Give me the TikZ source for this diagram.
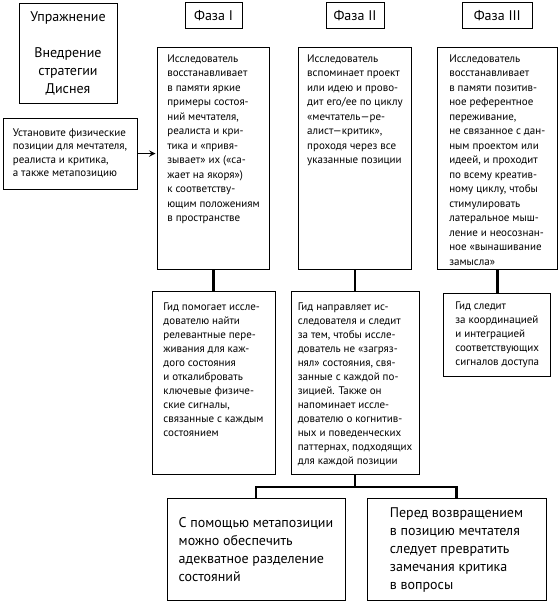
\documentclass[tikz,border=0pt]{standalone}
\usepackage{fontspec}
\setmainfont{PT Sans}
\usetikzlibrary{arrows, positioning}
\newcommand{\stacktext}[1]{\begin{tabular}[t]{@{}l@{}}#1\end{tabular}}
\tikzstyle{head} = [rectangle, draw=black, line width=1pt, minimum height=26pt, inner sep=0pt, font=\fontsize{14}{18}\selectfont]
\tikzstyle{note} = [rectangle, draw=black, line width=1pt, align=left, inner sep=0pt, font=\fontsize{11}{13.5}\selectfont]
\tikzstyle{phase} = [rectangle, draw=black, line width=1pt, anchor=north west, inner xsep=0pt, inner ysep=4pt, text height=10.5pt, text depth=203.5pt, font=\fontsize{11}{14.5}\selectfont]
\tikzstyle{guide} = [rectangle, draw=black, line width=1pt, inner xsep=0pt, inner ysep=4pt, text height=14.5pt, text depth=160.5pt, font=\fontsize{11}{14}\selectfont]
\tikzstyle{hint} = [rectangle, draw=black, line width=1pt, anchor=north, align=left, minimum height=102pt, inner sep=0pt, font=\fontsize{14}{18}\selectfont]
\tikzstyle{link} = [line width=2.5pt]
\tikzstyle{arrow} = [line width=1.8pt, ->, >=stealth, shorten >=1.5pt]

\begin{document}
\begin{tikzpicture}[x=1pt, y=-1pt]
        \useasboundingbox (0,0) rectangle (558,603);

        \node (ex) [head, align=center, minimum width=98pt, minimum height=100pt] at (68,53) {Упражнение\\[18pt]Внедрение\\стратегии\\Диснея};
        \node (setup) [note, minimum width=134pt, minimum height=71pt] at (70,153.5) {Установите физические\\позиции для мечтателя,\\реалиста и критика,\\а также метапозицию};

        \node (ph1) [phase, minimum width=112pt] at (157,47) {\stacktext{Исследователь\\восстанавливает\\в памяти яркие\\примеры состоя-\\ний мечтателя,\\реалиста и кри-\\тика и «привя-\\зывает» их («са-\\жает на якоря»)\\к соответству-\\ющим положениям\\в пространстве}};
        \node (ph2) [phase, minimum width=113pt] at (298,47) {\stacktext{Исследователь\\вспоминает проект\\или идею и прово-\\дит его/ее по циклу\\«мечтатель—ре-\\алист—критик»,\\проходя через все\\указанные позиции}};
        \node (ph3) [phase, minimum width=119.5pt] at (437,47) {\stacktext{Исследователь\\восстанавливает\\в памяти позитив-\\ное референтное\\переживание,\\не связанное с дан-\\ным проектом или\\идеей, и проходит\\по всему креатив-\\ному циклу, чтобы\\стимулировать\\латеральное мыш-\\ление и неосознан-\\ное «вынашивание\\замысла»}};

        \node (hd1) [head, minimum width=57pt, above=18pt of ph1] {Фаза I};
        \node (hd2) [head, minimum width=58pt, above=18pt of ph2] {Фаза II};
        \node (hd3) [head, minimum width=70pt, above=18pt of ph3] {Фаза III};

        \node (g1) [guide, minimum width=123pt, below=21pt of ph1] {\stacktext{Гид помогает иссле-\\дователю найти\\релевантные пере-\\живания для каж-\\дого состояния\\и откалибровать\\ключевые физиче-\\ские сигналы,\\связанные с каждым\\состоянием}};
        \node (g2) [guide, minimum width=128pt, below=21pt of ph2] {\stacktext{Гид направляет ис-\\следователя и следит\\за тем, чтобы иссле-\\дователь не «загряз-\\нял» состояния, свя-\\занные с каждой по-\\зицией. Также он\\напоминает иссле-\\дователю о когнитив-\\ных и поведенческих\\паттернах, подходящих\\для каждой позиции}};
        \node (g3) [note, font=\fontsize{11}{14}\selectfont, minimum width=107pt, minimum height=83pt, below=23pt of ph3] {Гид следит\\за координацией\\и интеграцией\\соответствующих\\сигналов доступа};

        \node (b1) [hint, minimum width=178pt] at (256,498) {С помощью метапозиции\\можно обеспечить\\адекватное разделение\\состояний};
        \node (b2) [hint, minimum width=179pt] at (456.5,498) {Перед возвращением\\в позицию мечтателя\\следует превратить\\замечания критика\\в вопросы};

        \draw [arrow] (setup.east) -- (setup.east -| ph1.west);
        \draw [link] (ph1) -- (g1);
        \draw [link] (ph2) -- (g2);
        \draw [link] (ph3) -- (g3);
        \draw [link] (g2.south) -- ++(0,12) coordinate (split);
        \draw [link] (split) -| (b1.north);
        \draw [link] (split) -| (b2.north);
    \end{tikzpicture}
\end{document}
